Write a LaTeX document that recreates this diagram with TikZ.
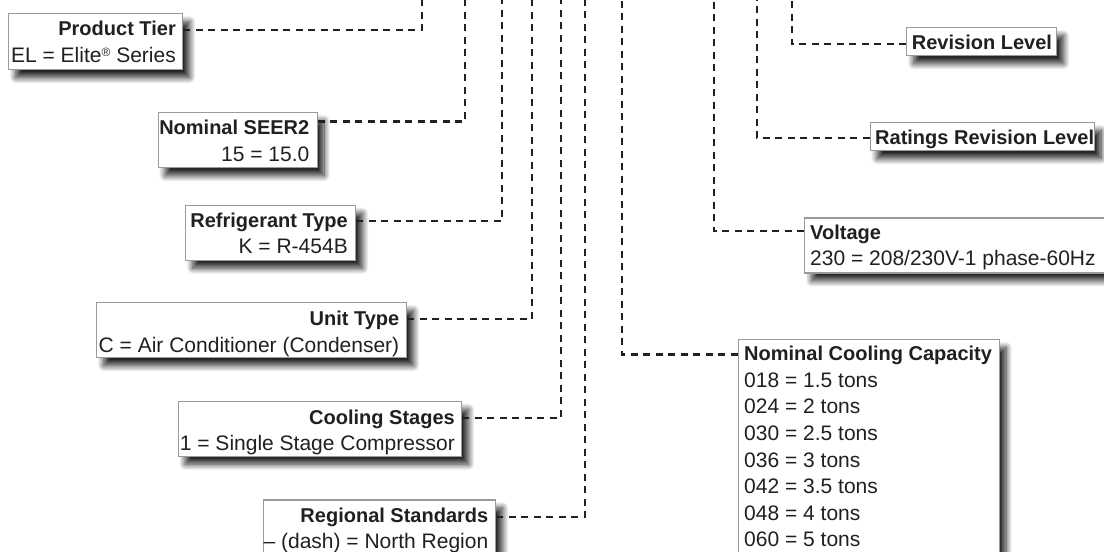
\documentclass[tikz,border=0pt]{standalone}
\usepackage{fontspec}
\setmainfont{Liberation Sans}
\usetikzlibrary{shadows.blur}
\definecolor{ink}{HTML}{231F20}
\definecolor{frame}{HTML}{9A9A9A}
\tikzset{
  box/.style={draw=frame, line width=1.3pt, fill=white, inner sep=0pt, anchor=north west,
    blur shadow={shadow xshift=7pt, shadow yshift=-8pt, shadow blur radius=6pt, shadow blur steps=14, shadow opacity=85}},
  hd/.style={font=\fontsize{20}{24}\selectfont\bfseries, text=ink, inner sep=0pt},
  val/.style={font=\fontsize{21}{24}\selectfont, text=ink, inner sep=0pt},
  conn/.style={draw=ink, line width=2.3pt, dash pattern=on 7pt off 5.5pt},
}
\begin{document}
\begin{tikzpicture}[x=1pt,y=-1pt]
\useasboundingbox (0,0) rectangle (1104,552);
\clip (0,0) rectangle (1104,552);
% top coordinates
\coordinate (ptT) at (422,-3);
\coordinate (seT) at (465,-3);
\coordinate (rfT) at (502,-3);
\coordinate (utT) at (532,-3);
\coordinate (csT) at (561,-3);
\coordinate (rgT) at (585,-3);
\coordinate (ncT) at (622,-3);
\coordinate (voT) at (714,-3);
\coordinate (rrT) at (757,-3);
\coordinate (rlT) at (792,-3);
% boxes
\node[box, minimum width=174pt, minimum height=56pt] (ptBox) at (8,13) {};
\node[box, minimum width=159pt, minimum height=55pt] (seBox) at (157.5,112) {};
\node[box, minimum width=170pt, minimum height=55pt] (rfBox) at (185,204.5) {};
\node[box, minimum width=310pt, minimum height=55pt] (utBox) at (96,302) {};
\node[box, minimum width=283.5pt, minimum height=55pt] (csBox) at (177.5,400.6) {};
\node[box, minimum width=232.5pt, minimum height=57pt] (rgBox) at (262.5,499.2) {};
\node[box, minimum width=150pt, minimum height=28pt] (rlBox) at (906,27) {};
\node[box, minimum width=224pt, minimum height=28pt] (rrBox) at (869.5,122) {};
\node[box, minimum width=310pt, minimum height=55pt] (voBox) at (804,217.2) {};
\node[box, minimum width=261pt, minimum height=226pt] (ncBox) at (737.5,339) {};
% connectors
\draw[conn] ([yshift=-17pt]ptBox.north east) -| (ptT);
\draw[conn] ([yshift=-9.5pt]seBox.north east) -| (seT);
\draw[conn] ([yshift=-16.5pt]rfBox.north east) -| (rfT);
\draw[conn] ([yshift=-17pt]utBox.north east) -| (utT);
\draw[conn] ([yshift=-17.6pt]csBox.north east) -| (csT);
\draw[conn] ([yshift=-17.8pt]rgBox.north east) -| (rgT);
\draw[conn] ([yshift=-17pt]rlBox.north west) -| (rlT);
\draw[conn] ([yshift=-16pt]rrBox.north west) -| (rrT);
\draw[conn] ([yshift=-14.1pt]voBox.north west) -| (voT);
\draw[conn] ([yshift=-15.5pt]ncBox.north west) -| (ncT);
% texts left
\node[hd, anchor=base east] (ptH) at (176,35.5) {Product Tier};
\node[val, anchor=base east] (ptV) at (176,62.5) {EL = Elite\raisebox{0.55ex}{\fontsize{12}{14}\selectfont ®} Series};
\node[hd, anchor=base east] (seH) at (309.5,134.8) {Nominal SEER2};
\node[val, anchor=base east] (seV) at (309.5,161) {15 = 15.0};
\node[hd, anchor=base east] (rfH) at (348,227) {Refrigerant Type};
\node[val, anchor=base east] (rfV) at (348,253) {K = R-454B};
\node[hd, anchor=base east] (utH) at (399.5,325.6) {Unit Type};
\node[val, anchor=base east] (utV) at (399.5,352) {C = Air Conditioner (Condenser)};
\node[hd, anchor=base east] (csH) at (455,424.2) {Cooling Stages};
\node[val, anchor=base east] (csV) at (455,450.6) {1 = Single Stage Compressor};
\node[hd, anchor=base east] (rgH) at (488.5,522.8) {Regional Standards};
\node[val, anchor=base east] (rgV) at (488.5,548.8) {– (dash) = North Region};
% texts right
\node[hd, anchor=base west] (rlH) at (911.7,49.3) {Revision Level};
\node[hd, anchor=base west] (rrH) at (875,144.3) {Ratings Revision Level};
\node[hd, anchor=base west] (voH) at (810,239.4) {Voltage};
\node[val, anchor=base west] (voV) at (810,265.8) {230 = 208/230V-1 phase-60Hz};
\node[hd, anchor=base west] (ncH) at (744,360.8) {Nominal Cooling Capacity};
\foreach \t [count=\i from 0] in {018 = 1.5 tons, 024 = 2 tons, 030 = 2.5 tons, 036 = 3 tons, 042 = 3.5 tons, 048 = 4 tons, 060 = 5 tons}
  \node[val, anchor=base west] (ncV\i) at (744,{387.2+26.6*\i}) {\t};
\end{tikzpicture}
\end{document}
